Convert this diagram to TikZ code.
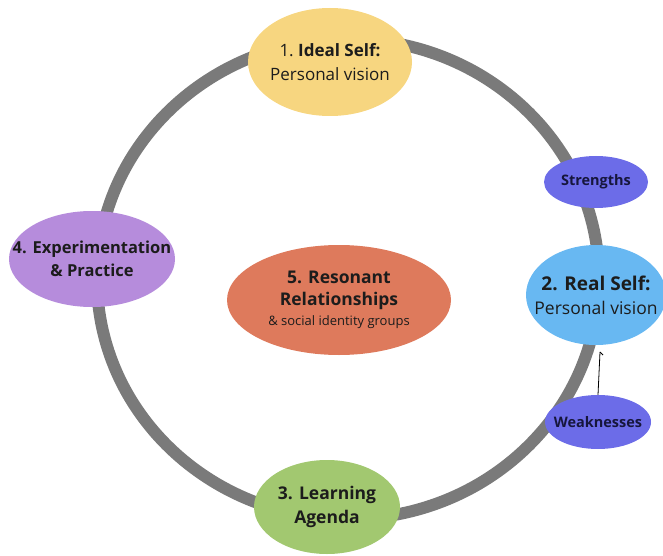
\documentclass[tikz,border=0pt]{standalone}
\usepackage{fontspec}
\setmainfont{Open Sans}
\usetikzlibrary{shapes.geometric}
\definecolor{ringgray}{RGB}{122,122,122}
\definecolor{idealc}{RGB}{247,214,128}
\definecolor{strc}{RGB}{108,108,232}
\definecolor{realc}{RGB}{104,184,242}
\definecolor{expc}{RGB}{182,140,220}
\definecolor{resc}{RGB}{222,122,92}
\definecolor{learnc}{RGB}{162,200,112}
\definecolor{txt}{RGB}{28,28,28}
\definecolor{navytxt}{RGB}{22,22,60}
\tikzset{
  blob/.style={ellipse, inner sep=-40pt, align=center, text=txt},
  ring/.style={draw=ringgray, line width=12pt},
}
\begin{document}
\begin{tikzpicture}[x=1pt,y=-1pt]
\useasboundingbox (0,0) rectangle (663,556);
\coordinate (c) at (348,279);
\draw[ring] (c) ellipse [x radius=251, y radius=240];
\node[blob, fill=idealc, minimum width=164pt, minimum height=108pt, font=\fontsize{17}{24}\selectfont] (ideal) at (330,62) {1.\ \textbf{Ideal Self:}\\Personal vision};
\node[blob, fill=strc, minimum width=104pt, minimum height=52pt, text=navytxt, font=\fontsize{14.5}{16}\selectfont\bfseries] (str) at (596,182) {Strengths};
\node[blob, fill=realc, minimum width=140pt, minimum height=100pt, font=\fontsize{17.5}{24}\selectfont] (real) at (596,295) {\textbf{\fontsize{19}{24}\selectfont 2. Real Self:}\\Personal vision};
\node[blob, fill=strc, minimum width=106pt, minimum height=54pt, text=navytxt, font=\fontsize{14.5}{16}\selectfont\bfseries] (weak) at (598,422) {Weaknesses};
\node[blob, fill=expc, minimum width=166pt, minimum height=96pt, font=\fontsize{16.5}{23}\selectfont\bfseries] (exp) at (92,259) {4. Experimentation\\\& Practice};
\node[blob, fill=resc, minimum width=224pt, minimum height=110pt, font=\fontsize{17.5}{22}\selectfont] (res) at (339,300) {\textbf{5. Resonant}\\\textbf{Relationships}\\[-2pt]{\fontsize{13}{15}\selectfont \& social identity groups}};
\node[blob, fill=learnc, minimum width=146pt, minimum height=94pt, font=\fontsize{17.5}{24}\selectfont\bfseries] (learn) at (327,507) {3. Learning\\Agenda};
\coordinate (tip) at (600,352);
\draw[black, line width=0.8pt] (weak.north) -- (tip);
\draw[black, line width=0.8pt] (tip) -- ++(3,3);
\end{tikzpicture}
\end{document}
